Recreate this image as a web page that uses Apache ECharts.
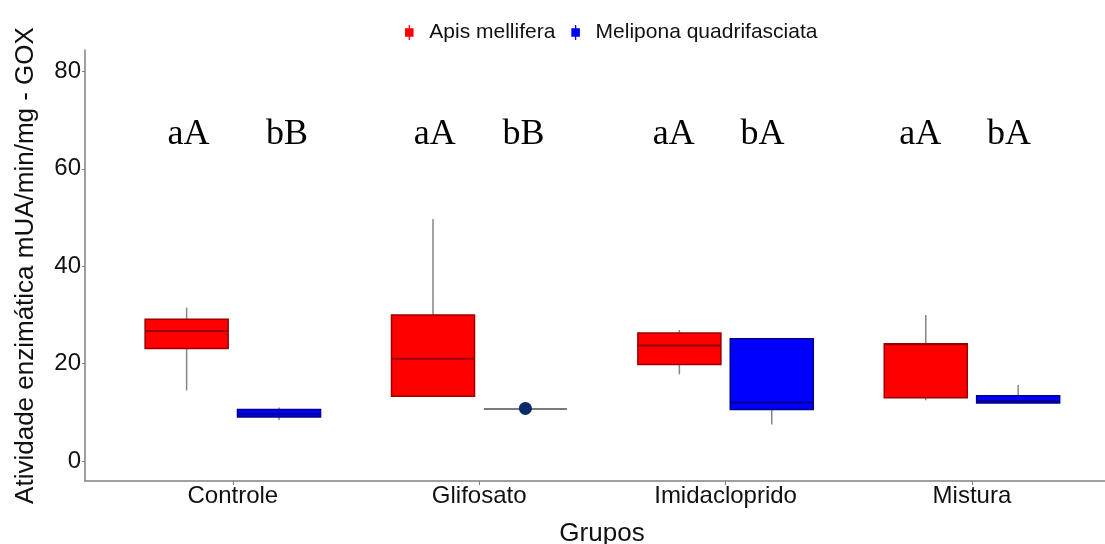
<!DOCTYPE html>
<html><head><meta charset="utf-8">
<script src="https://cdn.jsdelivr.net/npm/echarts@6/dist/echarts.min.js"></script>
<style>html,body{margin:0;padding:0;background:#fff}#c{width:1105px;height:544px}</style>
</head><body><div id="c"></div>
<script>
const categories = ['Controle', 'Glifosato', 'Imidacloprido', 'Mistura'];
// box statistics per category: [min, q1, median, q3, max]
const apisStats = [
  [14.5, 23.1, 26.7, 29.1, 31.5],
  [13.3, 13.3, 21.0, 30.0, 49.7],
  [17.8, 19.8, 23.7, 26.3, 26.9],
  [12.5, 13.0, 24.0, 24.1, 30.0]
];
const meliponaStats = [
  [8.4, 9.05, 9.6, 10.6, 11.0],
  [10.7, 10.7, 10.7, 10.7, 10.7],
  [7.5, 10.6, 12.0, 25.1, 25.1],
  [11.8, 11.9, 12.3, 13.4, 15.6]
];
// outliers: [category index (0-based), value]
const meliponaOutliers = [[1, 10.8]];
// significance letters (annotation layer, x in category units)
const annoText = ['aA', 'bB', 'aA', 'bB', 'aA', 'bA', 'aA', 'bA'];
const annoX = [0.82, 1.22, 1.82, 2.18, 2.79, 3.15, 3.79, 4.15];
const annoY = 67.0;
const yTicks = [0, 20, 40, 60, 80];

const DODGE = 0.1875, BOX_W = 0.337;
const boxData = (stats, side) => stats.map((s, i) => [i + 1 + side * DODGE].concat(s));

function makeRender(fill, stroke) {
  return function (params, api) {
    const x = api.value(0);
    const pts = [1, 2, 3, 4, 5].map(k => api.coord([x, api.value(k)]));
    const [pMin, pQ1, pMed, pQ3, pMax] = pts;
    const cx = pMin[0];
    const half = api.size([BOX_W, 0])[0] / 2;
    const h = pQ1[1] - pQ3[1];
    const children = [{
      type: 'line',
      shape: { x1: cx, y1: pMax[1], x2: cx, y2: pMin[1] },
      style: { stroke: '#858585', lineWidth: 1.5 }
    }];
    if (h > 0.5) {
      children.push({ type: 'rect', shape: { x: cx - half, y: pQ3[1], width: half * 2, height: h },
        style: { fill: fill, stroke: stroke, lineWidth: 1.5 } });
      children.push({ type: 'line', shape: { x1: cx - half, y1: pMed[1], x2: cx + half, y2: pMed[1] },
        style: { stroke: stroke, lineWidth: 2 } });
    } else {
      children.push({ type: 'line', shape: { x1: cx - half, y1: pMed[1], x2: cx + half, y2: pMed[1] },
        style: { stroke: '#7a7a7a', lineWidth: 2 } });
    }
    return { type: 'group', children: children };
  };
}

const font = 'Liberation Sans';
const axisColor = '#808080';
const chart = echarts.init(document.getElementById('c'));
chart.setOption({
  animation: false,
  backgroundColor: '#fff',
  grid: { left: 85, right: 0, top: 50, bottom: 63, outerBoundsMode: 'none', containLabel: false },
  legend: {
    left: 400, top: 17,
    itemWidth: 30, itemHeight: 15, itemGap: 16,
    icon: 'path://M0,3H8V11H0Z M3.4,0H4.6V14H3.4Z',
    textStyle: { fontSize: 21, fontFamily: font, color: '#111' },
    data: [
      { name: 'Apis mellifera', itemStyle: { color: '#ff0000' } },
      { name: 'Melipona quadrifasciata', itemStyle: { color: '#0000ff' } }
    ]
  },
  xAxis: {
    type: 'value', min: 0.4, max: 4.54,
    axisLine: { show: true, onZero: false, lineStyle: { color: axisColor, width: 1.5 } },
    axisTick: { show: true, customValues: [1, 2, 3, 4], length: 4, lineStyle: { color: axisColor } },
    axisLabel: { customValues: [1, 2, 3, 4], formatter: v => categories[Math.round(v) - 1],
      fontSize: 24, fontFamily: font, color: '#111', margin: 3 },
    splitLine: { show: false },
    name: 'Grupos', nameLocation: 'middle', nameGap: 40,
    nameTextStyle: { fontSize: 26, fontFamily: font, color: '#111', padding: [0, 0, 0, 14] }
  },
  yAxis: {
    type: 'value', min: -4.1, max: 84.4,
    axisLine: { show: true, onZero: false, lineStyle: { color: axisColor, width: 1.5 } },
    axisTick: { show: true, customValues: yTicks, length: 3, lineStyle: { color: axisColor } },
    axisLabel: { customValues: yTicks, fontSize: 24, fontFamily: font, color: '#111', margin: 4 },
    splitLine: { show: false },
    name: 'Atividade enzimática mUA/min/mg - GOX', nameLocation: 'middle', nameGap: 46, nameRotate: 90,
    nameTextStyle: { fontSize: 26, fontFamily: font, color: '#111' }
  },
  series: [
    {
      name: 'Apis mellifera', type: 'custom', itemStyle: { color: '#ff0000' },
      renderItem: makeRender('#ff0000', '#9a0000'),
      encode: { x: 0, y: [1, 2, 3, 4, 5] },
      data: boxData(apisStats, -1)
    },
    {
      name: 'Melipona quadrifasciata', type: 'custom', itemStyle: { color: '#0000ff' },
      renderItem: makeRender('#0000ff', '#00008a'),
      encode: { x: 0, y: [1, 2, 3, 4, 5] },
      data: boxData(meliponaStats, 1)
    },
    {
      name: 'Melipona quadrifasciata', type: 'scatter', symbolSize: 13,
      itemStyle: { color: '#0b2a6b', opacity: 1 },
      data: meliponaOutliers.map(o => [o[0] + 1 + DODGE, o[1]]),
      z: 5
    },
    {
      name: 'anno', type: 'custom', silent: true,
      encode: { x: 0, y: 1 },
      renderItem: function (params, api) {
        const p = api.coord([api.value(0), api.value(1)]);
        return { type: 'text', x: p[0], y: p[1],
          style: { text: annoText[params.dataIndex], fontSize: 36, fontFamily: 'Liberation Serif',
            fill: '#000', align: 'center', verticalAlign: 'middle',
            textAlign: 'center', textVerticalAlign: 'middle' } };
      },
      data: annoX.map(x => [x, annoY])
    }
  ]
});
</script></body></html>
